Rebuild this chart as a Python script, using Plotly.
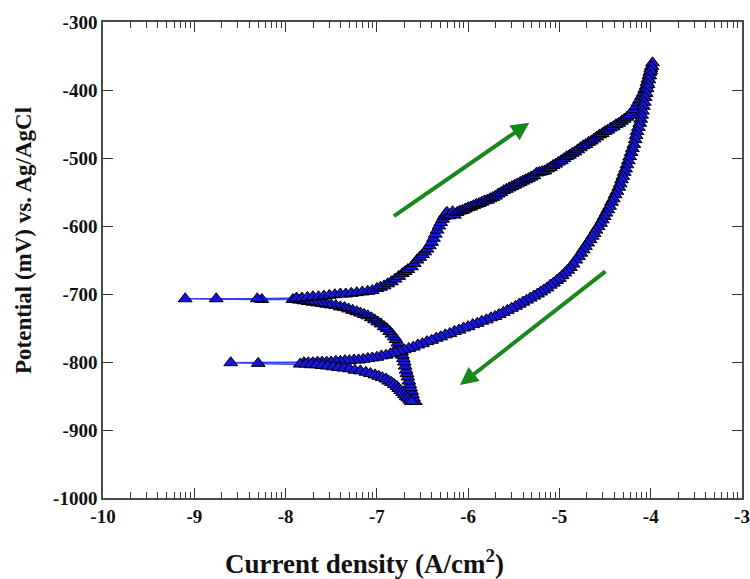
import numpy as np
import plotly.graph_objects as go

# Cyclic polarization scan, in scan order:
# log10 current density (A/cm^2) and potential (mV vs Ag/AgCl)

# cathodic branch of the forward sweep, down to the first corrosion potential
cath1_logi = [
    -6.58, -6.60, -6.61, -6.62, -6.63, -6.64, -6.65, -6.66, -6.67, -6.68,
    -6.69, -6.70, -6.71, -6.72, -6.73, -6.74, -6.76, -6.77, -6.79, -6.81,
    -6.835, -6.86, -6.89, -6.92, -6.955, -6.99, -7.025, -7.06, -7.10, -7.14,
    -7.18, -7.22, -7.265, -7.31, -7.355, -7.40, -7.45, -7.50, -7.55, -7.60,
    -7.65, -7.70, -7.75, -7.80, -7.85, -7.92, -8.26, -9.10, -8.76, -8.31,
    -7.88,
]
cath1_mv = [
    -858, -853, -848, -843, -838, -833, -828, -822, -817, -812,
    -806, -800, -795, -790, -785, -781, -776, -772, -767, -763,
    -759, -755, -751, -748, -744, -741, -738, -735, -732, -730,
    -728, -726, -724, -722, -720, -719, -717, -716, -715, -714,
    -713, -712, -711, -710, -709, -708, -708, -707, -707, -707,
    -706,
]

# anodic branch of the forward sweep, up to the vertex
anod_logi = [
    -7.82, -7.76, -7.70, -7.64, -7.58, -7.52, -7.46, -7.40, -7.34, -7.28,
    -7.22, -7.16, -7.10, -7.05, -7.00, -6.96, -6.92, -6.88, -6.84, -6.80,
    -6.76, -6.72, -6.69, -6.66, -6.62, -6.59, -6.56, -6.53, -6.50, -6.475,
    -6.45, -6.425, -6.40, -6.38, -6.36, -6.34, -6.32, -6.30, -6.28, -6.265,
    -6.25, -6.24, -6.23, -6.21, -6.19, -6.17, -6.15, -6.12, -6.09, -6.06,
    -6.03, -6.00, -5.97, -5.94, -5.91, -5.88, -5.85, -5.82, -5.79, -5.76,
    -5.73, -5.70, -5.67, -5.64, -5.61, -5.58, -5.55, -5.52, -5.49, -5.46,
    -5.43, -5.40, -5.37, -5.34, -5.31, -5.28, -5.25, -5.22, -5.19, -5.16,
    -5.13, -5.10, -5.07, -5.04, -5.01, -4.98, -4.95, -4.92, -4.89, -4.86,
    -4.83, -4.80, -4.77, -4.74, -4.71, -4.68, -4.65, -4.62, -4.59, -4.56,
    -4.53, -4.50, -4.47, -4.44, -4.41, -4.38, -4.35, -4.32, -4.29, -4.26,
    -4.235, -4.21, -4.185, -4.16, -4.14, -4.12, -4.10, -4.08, -4.065, -4.05,
    -4.04, -4.03, -4.02, -4.01, -4.00, -3.99, -3.98,
]
anod_mv = [
    -706, -705, -704, -704, -703, -702, -701, -700, -700, -699,
    -698, -697, -696, -695, -692, -690, -688, -685, -682, -678,
    -674, -670, -667, -664, -660, -655, -650, -646, -642, -638,
    -634, -629, -624, -618, -612, -606, -600, -595, -590, -586,
    -583, -581, -580, -585, -583, -579, -584, -580, -578, -577,
    -575, -573, -572, -570, -568, -567, -565, -563, -562, -560,
    -558, -556, -553, -551, -548, -546, -544, -542, -540, -538,
    -536, -534, -532, -530, -528, -526, -522, -521, -520, -519,
    -516, -514, -511, -509, -506, -504, -501, -498, -496, -493,
    -491, -488, -485, -482, -480, -477, -475, -472, -469, -466,
    -464, -461, -459, -456, -454, -451, -449, -446, -443, -440,
    -437, -433, -429, -424, -419, -414, -409, -404, -399, -394,
    -389, -384, -379, -374, -369, -365, -360,
]

# reverse sweep from the vertex down to the second corrosion potential
rev_logi = [
    -3.99, -4.00, -4.01, -4.02, -4.03, -4.04, -4.05, -4.06, -4.07, -4.08,
    -4.09, -4.10, -4.11, -4.12, -4.135, -4.15, -4.16, -4.17, -4.185, -4.20,
    -4.215, -4.23, -4.245, -4.26, -4.275, -4.29, -4.305, -4.32, -4.335, -4.35,
    -4.37, -4.39, -4.41, -4.43, -4.45, -4.47, -4.49, -4.51, -4.53, -4.55,
    -4.575, -4.60, -4.62, -4.64, -4.665, -4.69, -4.715, -4.74, -4.765, -4.79,
    -4.82, -4.85, -4.88, -4.91, -4.94, -4.97, -5.00, -5.03, -5.065, -5.10,
    -5.135, -5.17, -5.205, -5.24, -5.28, -5.32, -5.36, -5.40, -5.44, -5.48,
    -5.525, -5.57, -5.615, -5.66, -5.705, -5.75, -5.80, -5.85, -5.90, -5.95,
    -6.00, -6.05, -6.10, -6.15, -6.20, -6.25, -6.30, -6.35, -6.40, -6.45,
    -6.50, -6.55, -6.60, -6.65, -6.70, -6.75, -6.80, -6.85, -6.90, -6.95,
    -7.00, -7.05, -7.10, -7.15, -7.20, -7.25, -7.30, -7.35, -7.40, -7.45,
    -7.50, -7.55, -7.60, -7.65, -7.70, -7.75, -7.80, -8.60,
]
rev_mv = [
    -366, -372, -379, -385, -392, -398, -405, -411, -418, -424,
    -431, -437, -443, -449, -455, -461, -467, -473, -480, -486,
    -492, -498, -504, -510, -516, -521, -527, -532, -538, -543,
    -549, -554, -560, -565, -571, -576, -581, -586, -591, -596,
    -601, -606, -611, -615, -620, -625, -630, -635, -640, -645,
    -650, -656, -661, -665, -669, -673, -677, -680, -684, -687,
    -691, -694, -697, -700, -703, -706, -709, -712, -715, -718,
    -721, -724, -727, -730, -733, -735, -738, -740, -743, -745,
    -748, -750, -753, -755, -758, -760, -763, -765, -768, -770,
    -773, -775, -778, -780, -782, -784, -786, -788, -790, -791,
    -793, -794, -795, -796, -797, -797, -798, -798, -799, -799,
    -800, -800, -800, -800, -801, -801, -801, -801,
]

# cathodic branch after the reversal
cath2_logi = [
    -8.30, -7.84, -7.78, -7.72, -7.66, -7.60, -7.54, -7.48, -7.42, -7.36,
    -7.30, -7.24, -7.18, -7.12, -7.07, -7.02, -6.98, -6.94, -6.90, -6.87,
    -6.84, -6.81, -6.78, -6.76, -6.74, -6.72, -6.70, -6.68, -6.66, -6.64,
    -6.62,
]
cath2_mv = [
    -802, -803, -803, -804, -804, -805, -806, -807, -808, -809,
    -810, -812, -813, -815, -817, -819, -821, -823, -825, -828,
    -830, -833, -836, -839, -842, -845, -848, -851, -853, -856,
    -858,
]

log_i = cath1_logi + anod_logi + rev_logi + cath2_logi
potential = cath1_mv + anod_mv + rev_mv + cath2_mv

x_ticks = [-10, -9, -8, -7, -6, -5, -4, -3]
y_ticks = [-1000, -900, -800, -700, -600, -500, -400, -300]

# log-decade minor ticks on the exponent axis
x_minor = [d + np.log10(k) for d in range(-10, -3) for k in range(2, 10)]

# scan-direction arrows: (tail x, tail y, head x, head y)
arrows = [
    (-6.83, -587, -5.33, -448),
    (-4.48, -665, -6.09, -834),
]

serif = "Liberation Serif, Times New Roman, serif"
ink = "#111111"

W, H = 750, 579
ML, MR, MT, MB = 103, 8, 22, 81
pw, ph = W - ML - MR, H - MT - MB


def px_to_paper(px, py):
    """Pixel position in the figure -> paper coordinates."""
    return (px - ML) / pw, (H - MB - py) / ph


fig = go.Figure()
fig.add_trace(go.Scatter(
    x=log_i, y=potential, mode="lines+markers",
    line=dict(color="#2f3ff0", width=1.6),
    marker=dict(symbol="triangle-up", size=12, color="#1414dc",
                line=dict(color="#000000", width=1)),
    showlegend=False, hoverinfo="skip",
))

for tx, ty, hx, hy in arrows:
    fig.add_annotation(
        x=hx, y=hy, ax=tx, ay=ty, xref="x", yref="y", axref="x", ayref="y",
        text="", showarrow=True, arrowhead=2, arrowsize=0.9, arrowwidth=4,
        arrowcolor="#18881a",
    )

# axis titles
xt_x, xt_y = px_to_paper(364, 562)
fig.add_annotation(
    x=xt_x, y=xt_y, xref="paper", yref="paper", xanchor="center", yanchor="middle",
    text="Current density (A/cm<sup>2</sup>)", showarrow=False,
    font=dict(family=serif, size=27, color=ink, weight="bold"),
)
yt_x, yt_y = px_to_paper(23, 241)
fig.add_annotation(
    x=yt_x, y=yt_y, xref="paper", yref="paper", xanchor="center", yanchor="middle",
    textangle=-90, text="Potential (mV) vs. Ag/AgCl", showarrow=False,
    font=dict(family=serif, size=23, color=ink, weight="bold"),
)

axis_common = dict(
    showgrid=False, zeroline=False, showline=True, linecolor="#4a4a4a",
    linewidth=1.5, mirror="allticks", ticks="inside", tickcolor="#333333",
    tickwidth=1.2, ticklen=10, automargin=False,
    tickfont=dict(family=serif, size=19, color=ink, weight="bold"),
)

fig.update_xaxes(
    **axis_common, range=[-10, -3], tickmode="array", tickvals=x_ticks,
    ticktext=[str(v) for v in x_ticks],
    minor=dict(tickmode="array", tickvals=x_minor, ticks="inside", ticklen=6,
               tickcolor="#333333", tickwidth=1),
)
fig.update_yaxes(
    **axis_common, range=[-1000, -300], tickmode="array", tickvals=y_ticks,
    ticktext=[str(v) for v in y_ticks],
)

fig.update_layout(
    width=W, height=H,
    margin=dict(l=ML, r=MR, t=MT, b=MB),
    paper_bgcolor="white", plot_bgcolor="white",
)

fig.write_html("out.html")
